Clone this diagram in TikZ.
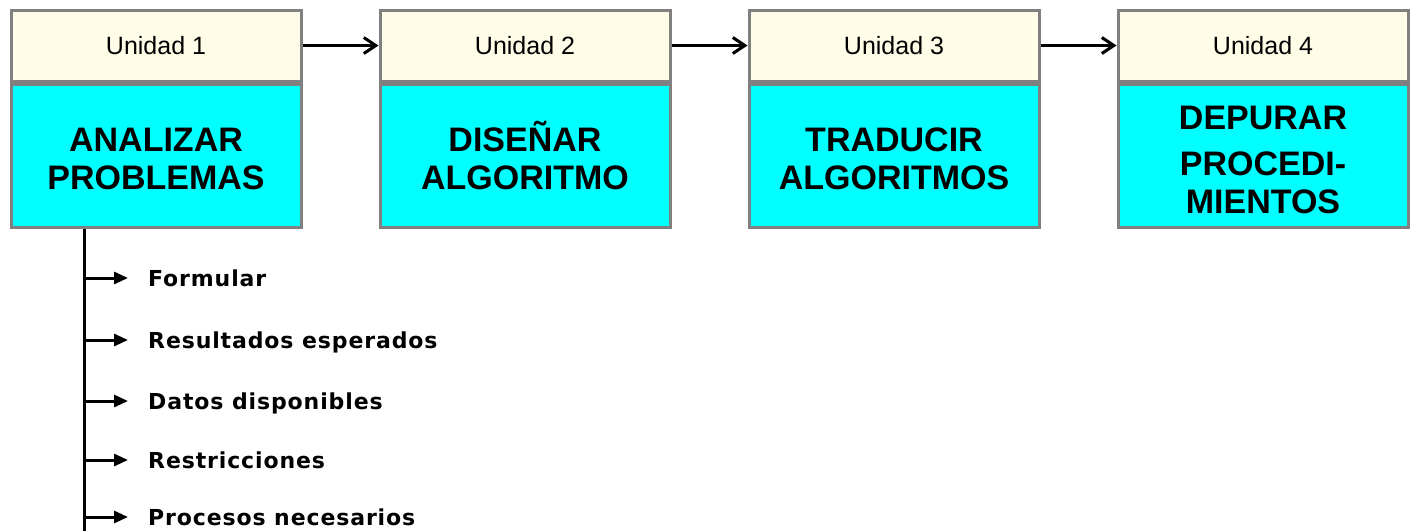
\documentclass[tikz,border=0pt]{standalone}
\usepackage{fontspec}
\setmainfont{Liberation Sans}
\newfontfamily\itemfont[LetterSpace=4]{DejaVu Sans}
\usepackage{tikz}
\usepackage{xcolor}
\definecolor{unitbg}{RGB}{255, 253, 232}
\definecolor{stagebg}{RGB}{0, 255, 255}
\definecolor{boxedge}{RGB}{128, 128, 128}
\usetikzlibrary{arrows.meta, positioning}

\begin{document}
\begin{tikzpicture}[x=1pt, y=-1pt, node distance=76pt,
    unit/.style={draw=boxedge, line width=3pt, fill=unitbg, minimum width=290pt,
      minimum height=71pt, inner sep=0pt, font=\fontsize{25}{30}\selectfont},
    stage/.style={draw=boxedge, line width=3pt, fill=stagebg, minimum width=290pt,
      minimum height=143pt, inner sep=0pt, align=center,
      font=\fontsize{34}{38}\selectfont\bfseries},
    item/.style={anchor=west, inner sep=0pt, text height=16pt, text depth=0pt,
      font=\itemfont\bfseries\fontsize{22}{26}\selectfont}]
    \useasboundingbox (0,0) rectangle (1420,531);

    % Unit headers
    \node[unit] (u1) at (156,45.5) {Unidad 1};
    \node[unit, right=of u1] (u2) {Unidad 2};
    \node[unit, right=of u2] (u3) {Unidad 3};
    \node[unit, right=of u3] (u4) {Unidad 4};

    % Stages
    \node[stage, below=0pt of u1] (s1) {\rule{0pt}{30pt}ANALIZAR\\PROBLEMAS};
    \node[stage, below=0pt of u2] (s2) {\rule{0pt}{30pt}DISEÑAR\\ALGORITMO};
    \node[stage, below=0pt of u3] (s3) {\rule{0pt}{30pt}TRADUCIR\\ALGORITMOS};
    \node[stage, below=0pt of u4] (s4) {\rule{0pt}{33pt}DEPURAR\\[8pt]PROCEDI-\\MIENTOS};

    \foreach \a/\b in {u1/u2, u2/u3, u3/u4}
      \draw[-{Straight Barb[length=12pt, width=16pt]}, line width=3pt] (\a) -- (\b);

    % Steps of the first stage
    \coordinate (trunkend) at (84,531);
    \draw[line width=3pt] (s1.south -| trunkend) -- (trunkend);
    \foreach \y/\t [count=\i] in {278/Formular, 340/Resultados esperados,
        401/Datos disponibles, 460/Restricciones, 517/Procesos necesarios} {
      \node[item] (i\i) at (148,\y) {\t};
      \coordinate (b\i) at (trunkend |- i\i.west);
      \draw[-{Triangle[length=14pt, width=12pt]}, line width=3pt, shorten >=20pt] (b\i) -- (i\i.west);
    }
  \end{tikzpicture}
\end{document}
